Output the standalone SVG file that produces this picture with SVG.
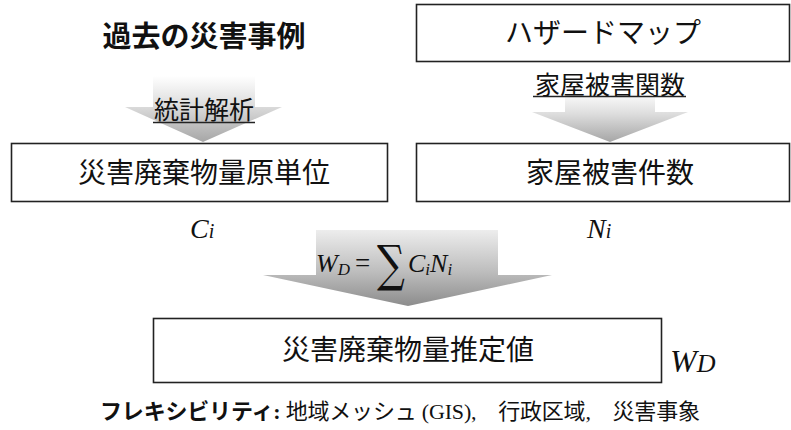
<svg xmlns="http://www.w3.org/2000/svg" width="791" height="430" viewBox="0 0 791 430">
<style>
.box{fill:#fff;stroke:#222;stroke-width:1.6}
.jp{font-family:"Liberation Serif","Noto Sans CJK JP",serif;fill:#111}
.m{font-family:"Liberation Serif","DejaVu Serif",serif;font-style:italic;fill:#111}
.ul{stroke:#222;stroke-width:1.3}
</style>
<defs>
<linearGradient id="g1" x1="0" y1="0" x2="0" y2="1">
<stop offset="0" stop-color="#ffffff"/>
<stop offset="0.45" stop-color="#dcdcdc"/>
<stop offset="1" stop-color="#a6a6a6"/>
</linearGradient>
<linearGradient id="g2" x1="0" y1="0" x2="0" y2="1">
<stop offset="0" stop-color="#ededed"/>
<stop offset="0.55" stop-color="#bdbdbd"/>
<stop offset="1" stop-color="#8c8c8c"/>
</linearGradient>
</defs>
<g id="connectors">
<polygon points="153,76 255,76 255,107 282,107 203,142 125,107 153,107" fill="url(#g1)"/>
<polygon points="565,92 655,92 655,112 688,112 610,142 532,112 565,112" fill="url(#g1)"/>
<polygon points="316,230 498,230 498,275 552,275 408,306 263,275 316,275" fill="url(#g2)"/>
</g>
<g id="heading">
<text class="jp" x="204" y="37" text-anchor="middle" dominant-baseline="central" font-size="29" font-weight="bold">過去の災害事例</text>
</g>
<g id="hazard">
<rect class="box" x="416.5" y="4.5" width="373" height="57"/>
<text class="jp" x="603" y="33" text-anchor="middle" dominant-baseline="central" font-size="28">ハザードマップ</text>
</g>
<g id="label-stat">
<text class="jp" x="204" y="110" text-anchor="middle" dominant-baseline="central" font-size="25">統計解析</text>
<line class="ul" x1="153" y1="122.5" x2="255" y2="122.5"/>
</g>
<g id="label-func">
<text class="jp" x="610" y="85" text-anchor="middle" dominant-baseline="central" font-size="25">家屋被害関数</text>
<line class="ul" x1="533" y1="96.5" x2="686" y2="96.5"/>
</g>
<g id="unit">
<rect class="box" x="11.5" y="143.5" width="376" height="58"/>
<text class="jp" x="204" y="173" text-anchor="middle" dominant-baseline="central" font-size="28">災害廃棄物量原単位</text>
</g>
<g id="houses">
<rect class="box" x="416.5" y="143.5" width="373" height="58"/>
<text class="jp" x="610" y="173" text-anchor="middle" dominant-baseline="central" font-size="28">家屋被害件数</text>
</g>
<g id="ci">
<text class="m" x="190" y="238" font-size="28">C<tspan font-size="20">i</tspan></text>
</g>
<g id="ni">
<text class="m" x="587" y="238" font-size="28">N<tspan font-size="20">i</tspan></text>
</g>
<g id="formula">
<text class="m" x="316" y="272" font-size="26">W<tspan font-size="17" dy="3">D</tspan></text>
<text x="355" y="272" font-size="27" font-family="Liberation Serif,serif" fill="#111">=</text>
<text x="377" y="281" font-size="50" font-family="DejaVu Serif,serif" fill="#111" transform="translate(377 0) scale(0.78 1) translate(-377 0)">∑</text>
<text class="m" x="408" y="272" font-size="26">C<tspan font-size="17" dy="3">i</tspan><tspan dy="-3">N</tspan><tspan font-size="17" dy="3">i</tspan></text>
</g>
<g id="estimate">
<rect class="box" x="153.5" y="318.5" width="508" height="64"/>
<text class="jp" x="408" y="350" text-anchor="middle" dominant-baseline="central" font-size="28">災害廃棄物量推定値</text>
</g>
<g id="wd">
<text class="m" x="670" y="372" font-size="32">W<tspan font-size="26">D</tspan></text>
</g>
<g id="flex">
<text class="jp" x="100" y="419" font-size="22" textLength="600" lengthAdjust="spacing"><tspan font-weight="bold">フレキシビリティ:</tspan> 地域メッシュ (GIS),　行政区域,　災害事象</text>
</g>
</svg>
